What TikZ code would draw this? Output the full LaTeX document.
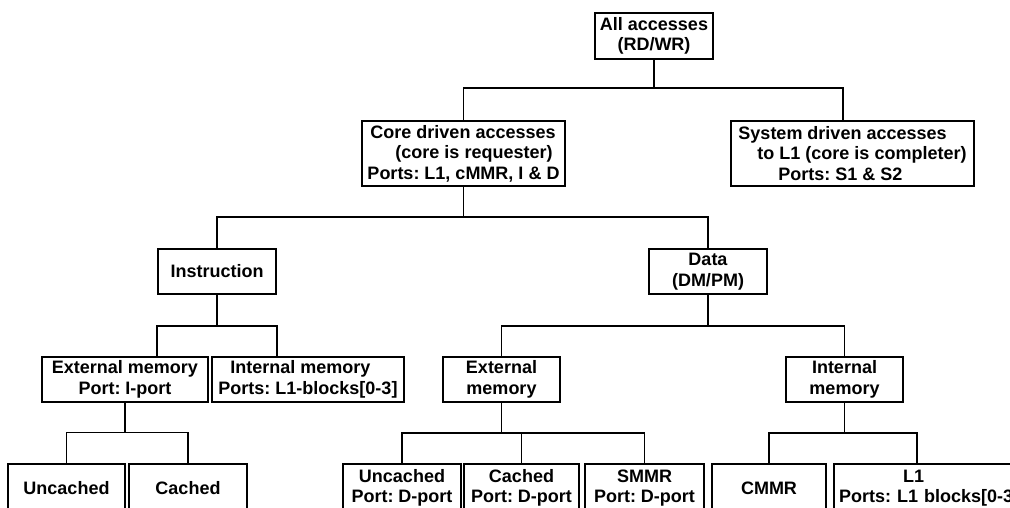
\documentclass[tikz,border=0pt]{standalone}
\usepackage{fontspec}
\setmainfont{Liberation Sans}
\frenchspacing
\begin{document}
\begin{tikzpicture}[x=1pt,y=-1pt,
  box/.style={draw, line width=2.5pt, inner sep=0pt, fill=white,
    font=\bfseries\fontsize{18}{20.5}\selectfont\frenchspacing, align=center},
  conn/.style={line width=1.8pt}]
\useasboundingbox (0,0) rectangle (1010,508);
\clip (0,0) rectangle (1010,508);
% level 0
\node[box, minimum width=118pt, minimum height=46pt] (all) at (654,36) {All accesses\\(RD/WR)};
% level 1
\node[box, minimum width=203pt, minimum height=65pt, align=left] (core) at (463.5,153.5)
  {\hspace*{3pt}Core driven accesses\\\hspace*{28pt}(core is requester)\\Ports: L1, cMMR, I \& D};
\node[box, minimum width=243pt, minimum height=65pt, align=left] (sys) at (852.5,153.5)
  {System driven accesses\\\hspace*{19pt}to L1 (core is completer)\\\hspace*{40pt}Ports: S1 \& S2};
% level 2
\node[box, minimum width=118pt, minimum height=45pt] (instr) at (217,271.5) {Instruction};
\node[box, minimum width=118pt, minimum height=45pt] (data) at (708,271.5) {Data\\(DM/PM)};
% level 3
\node[box, minimum width=166pt, minimum height=45pt] (iext) at (125,379.5) {External memory\\Port: I-port};
\node[box, minimum width=192pt, minimum height=45pt, align=left] (iint) at (308,379.5)
  {\hspace*{12pt}Internal memory\\Ports: L1-blocks[0-3]};
\node[box, minimum width=117pt, minimum height=45pt] (dext) at (501.5,379.5) {External\\memory};
\node[box, minimum width=117pt, minimum height=45pt] (dint) at (844.5,379.5) {Internal\\memory};
% level 4
\node[box, minimum width=117pt, minimum height=48pt] (iunc) at (66.5,488) {Uncached};
\node[box, minimum width=118pt, minimum height=48pt] (icac) at (188,488) {Cached};
\node[box, minimum width=118pt, minimum height=48pt] (dunc) at (402,488) {Uncached\\Port: D-port};
\node[box, minimum width=115pt, minimum height=48pt] (dcac) at (521.5,488) {Cached\\Port: D-port};
\node[box, minimum width=119pt, minimum height=48pt] (smmr) at (644.5,488) {SMMR\\Port: D-port};
\node[box, minimum width=114pt, minimum height=48pt] (cmmr) at (769,488) {CMMR};
\node[box, minimum width=206pt, minimum height=48pt, text width=196pt, align=left] (l1) at (937,488)
  {\hspace*{64pt}L1\\Ports: L1 blocks[0-3]};
% junctions
\coordinate (j1) at (654,88);
\coordinate (j2) at (463.5,217);
\coordinate (j3) at (217,326);
\coordinate (j4) at (708,326);
\coordinate (j5) at (125,432.5);
\coordinate (j6) at (501.5,433);
\coordinate (j7) at (844.5,433);
% connectors
\draw[conn] (all.south) -- (j1);
\draw[conn] (core.north) |- (j1) -| ([xshift=-9.5pt]sys.north);
\draw[conn] (core.south) -- (j2);
\draw[conn] (instr.north) |- (j2) -| (data.north);
\draw[conn] (instr.south) -- (j3);
\draw[conn] ([xshift=32pt]iext.north) |- (j3) -| ([xshift=-31pt]iint.north);
\draw[conn] (data.south) -- (j4);
\draw[conn] (dext.north) |- (j4) -| (dint.north);
\draw[conn] (iext.south) -- (j5);
\draw[conn] (iunc.north) |- (j5) -| (icac.north);
\draw[conn] (dext.south) -- (j6);
\draw[conn] (dunc.north) |- (j6) -| (smmr.north);
\draw[conn] (dcac.north) -- (dcac.north |- j6);
\draw[conn] (dint.south) -- (j7);
\draw[conn] (cmmr.north) |- (j7) -| ([xshift=-20pt]l1.north);
\end{tikzpicture}
\end{document}
